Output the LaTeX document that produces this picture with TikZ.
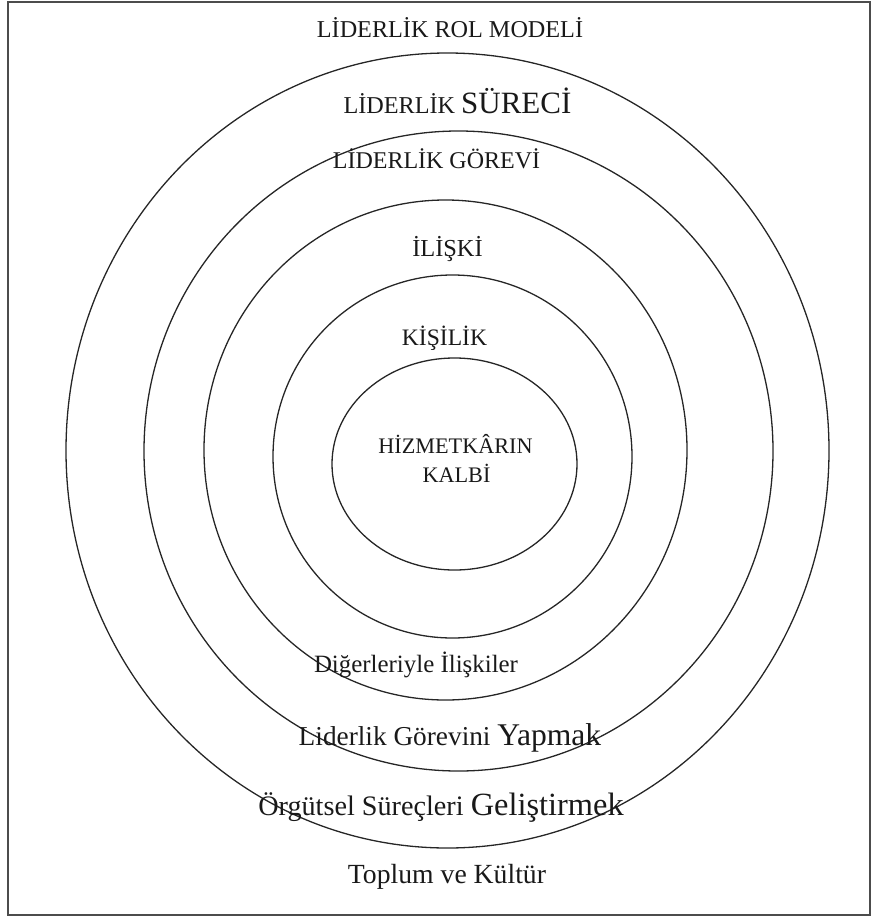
\documentclass[tikz,border=0pt]{standalone}
\usepackage{fontspec}
\setmainfont{Liberation Serif}
\begin{document}
\begin{tikzpicture}[x=1pt,y=-1pt,
  ring/.style={draw=black!85,line width=1.3pt},
  lbl/.style={anchor=base,inner sep=0pt,text=black!90}]
\useasboundingbox (0,0) rectangle (871,918);
\draw[draw=black!70,line width=1.8pt] (8,2) rectangle (870,915);
% rings
\draw[ring] (447.5,450.5) ellipse [x radius=381.5,y radius=397.5];
\draw[ring] (458.5,451) ellipse [x radius=314.5,y radius=320];
\draw[ring] (445.5,450) ellipse [x radius=241.5,y radius=250];
\draw[ring] (452.5,456.5) ellipse [x radius=179.5,y radius=181.5];
\draw[ring] (454.5,464) ellipse [x radius=122.5,y radius=106];
% labels
\node[lbl] (rol) at (450,37) {\fontsize{24.2}{28}\selectfont LİDERLİK ROL MODELİ};
\node[lbl] (surec) at (457.5,113) {\fontsize{24.2}{28}\selectfont LİDERLİK \fontsize{31}{34}\selectfont SÜRECİ};
\node[lbl] (gorev) at (436.5,168) {\fontsize{24}{28}\selectfont LİDERLİK GÖREVİ};
\node[lbl] (iliski) at (447.5,256) {\fontsize{24.4}{28}\selectfont İLİŞKİ};
\node[lbl] (kisilik) at (444.5,345) {\fontsize{23.6}{28}\selectfont KİŞİLİK};
\node[lbl] (kalp1) at (455.5,453) {\fontsize{22.2}{28}\selectfont HİZMETKÂRIN};
\node[lbl] (kalp2) at (456.5,482) {\fontsize{22.2}{28}\selectfont KALBİ};
\node[lbl] (diger) at (416,672) {\fontsize{24.9}{28}\selectfont Diğerleriyle İlişkiler};
\node[lbl] (yapmak) at (450,745) {\fontsize{27.3}{30}\selectfont Liderlik Görevini \fontsize{31.6}{34}\selectfont Yapmak};
\node[lbl] (orgut) at (441,815) {\fontsize{28.2}{30}\selectfont Örgütsel Süreçleri \fontsize{32.4}{34}\selectfont Geliştirmek};
\node[lbl] (toplum) at (447,883) {\fontsize{27.7}{30}\selectfont Toplum ve Kültür};
\end{tikzpicture}
\end{document}
